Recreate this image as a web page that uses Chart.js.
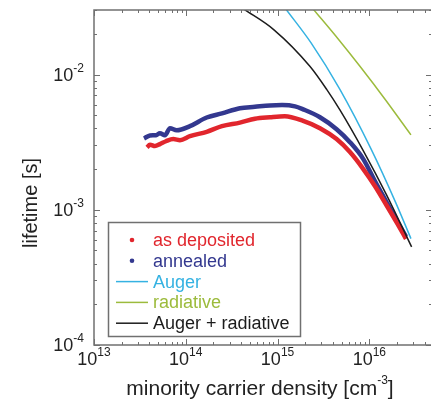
<!DOCTYPE html>
<html>
<head>
<meta charset="utf-8">
<script src="https://cdn.jsdelivr.net/npm/chart.js@4"></script>
<style>
  html, body { margin: 0; padding: 0; background: #fff; }
  #wrap { width: 431px; height: 410px; }
</style>
</head>
<body>
<div id="wrap"><canvas id="lifetimeChart" width="431" height="410"></canvas></div>
<script>
const depN = [3.78e13, 4.07e13, 4.62e13, 5.23e13, 6.08e13, 7.31e13, 8.65e13, 1.11e14, 1.69e14, 2.48e14, 3.89e14, 5.67e14, 8.26e14, 1.2e15, 1.9e15, 2.9e15, 4.4e15, 6.15e15, 8.6e15, 1.15e16, 1.54e16, 2.0e16, 2.51e16];
const depTau = [2.89e-3, 3.03e-3, 2.96e-3, 3.06e-3, 3.21e-3, 3.33e-3, 3.27e-3, 3.5e-3, 3.77e-3, 4.15e-3, 4.41e-3, 4.71e-3, 4.83e-3, 4.91e-3, 4.54e-3, 4.01e-3, 3.33e-3, 2.67e-3, 2.0e-3, 1.5e-3, 1.08e-3, 8.0e-4, 6.1e-4];

const annN = [3.51e13, 4.07e13, 4.73e13, 5.23e13, 5.93e13, 6.73e13, 7.96e13, 1.11e14, 1.69e14, 2.48e14, 3.89e14, 5.67e14, 8.26e14, 1.12e15, 1.55e15, 1.9e15, 2.9e15, 4.4e15, 6.15e15, 8.6e15, 1.15e16, 1.54e16, 2.0e16, 2.51e16];
const annTau = [3.37e-3, 3.54e-3, 3.56e-3, 3.68e-3, 3.56e-3, 4.01e-3, 3.87e-3, 4.15e-3, 4.81e-3, 5.16e-3, 5.63e-3, 5.77e-3, 5.91e-3, 5.95e-3, 5.82e-3, 5.53e-3, 4.83e-3, 3.94e-3, 3.16e-3, 2.37e-3, 1.63e-3, 1.14e-3, 8.3e-4, 6.32e-4];

// model curves
const augerN = [1.235e15, 2.31e15, 4.78e15, 1.04e16, 1.95e16, 2.84e16];
const augerTau = [3.04e-2, 1.72e-2, 7.76e-3, 2.83e-3, 1.12e-3, 6.12e-4];

const radN = [2.45e15, 4.58e15, 7.9e15, 1.49e16, 2.84e16];
const radTau = [3.04e-2, 1.83e-2, 1.15e-2, 6.54e-3, 3.58e-3];

const sumN = [4.31e14, 9.14e14, 2.25e15, 3.43e15, 4.78e15, 8.58e15, 1.54e16, 2.89e16];
const sumTau = [3.04e-2, 2.14e-2, 1.15e-2, 7.76e-3, 5.47e-3, 2.74e-3, 1.29e-3, 5.31e-4];

// axes
const xMajor = [1e13, 1e14, 1e15, 1e16];
const xExp = ["13", "14", "15", "16"];
const yMajor = [1e-4, 1e-3, 1e-2];
const yExp = ["-4", "-3", "-2"];

const FONT = '"Liberation Sans", Arial, sans-serif';
const axisColor = "#707070";
const textColor = "#222";

function pts(xs, ys) {
  return xs.map((v, i) => ({ x: v, y: ys[i] }));
}

function series(label, xs, ys, color, width, order, marker) {
  return {
    label,
    data: pts(xs, ys),
    borderColor: color,
    backgroundColor: color,
    borderWidth: width,
    pointRadius: 0,
    pointStyle: marker,
    cubicInterpolationMode: "monotone",
    order,
  };
}

function drawPow(ctx, exp, x, baseline, align) {
  ctx.font = "18px " + FONT;
  const wb = ctx.measureText("10").width;
  ctx.font = "12px " + FONT;
  const we = ctx.measureText(exp).width;
  let start = align === "right" ? x - wb - we : x - (wb + we) / 2;
  ctx.textAlign = "left";
  ctx.textBaseline = "alphabetic";
  ctx.font = "18px " + FONT;
  ctx.fillText("10", start, baseline);
  ctx.font = "12px " + FONT;
  ctx.fillText(exp, start + wb, baseline - 9);
}

const framePlugin = {
  id: "frame",
  afterDraw(chart) {
    const { ctx, chartArea: a, scales } = chart;
    const x = scales.x, y = scales.y;
    ctx.save();
    ctx.strokeStyle = axisColor;
    ctx.lineWidth = 1.5;
    // left, bottom and top; the right edge is cut off by the picture
    ctx.beginPath();
    ctx.moveTo(a.right, a.top); ctx.lineTo(a.left, a.top);
    ctx.lineTo(a.left, a.bottom); ctx.lineTo(a.right, a.bottom);
    ctx.stroke();

    // inward ticks on all four sides
    ctx.lineWidth = 1;
    ctx.beginPath();
    for (let e = 13; e <= 16; e++) {
      for (let m = 1; m <= 9; m++) {
        const v = m * Math.pow(10, e);
        if (v > x.max) continue;
        const px = Math.round(x.getPixelForValue(v)) + 0.5;
        const len = m === 1 ? 6 : 3;
        ctx.moveTo(px, a.bottom); ctx.lineTo(px, a.bottom - len);
        ctx.moveTo(px, a.top); ctx.lineTo(px, a.top + len);
      }
    }
    for (let e = -4; e <= -2; e++) {
      for (let m = 1; m <= 9; m++) {
        const v = m * Math.pow(10, e);
        if (v > y.max) continue;
        const py = Math.round(y.getPixelForValue(v)) + 0.5;
        const len = m === 1 ? 6 : 3;
        ctx.moveTo(a.left, py); ctx.lineTo(a.left + len, py);
        ctx.moveTo(a.right + 1, py); ctx.lineTo(a.right + 1 - len, py);
      }
    }
    ctx.stroke();

    // tick labels
    ctx.fillStyle = textColor;
    xMajor.forEach((v, i) => drawPow(ctx, xExp[i], x.getPixelForValue(v), 365, "center"));
    yMajor.forEach((v, i) => drawPow(ctx, yExp[i], 84, y.getPixelForValue(v) + 6, "right"));

    // axis titles
    ctx.font = "21px " + FONT;
    ctx.textBaseline = "middle";
    ctx.textAlign = "left";
    const t1 = "minority carrier density [cm";
    const w1 = ctx.measureText(t1).width;
    ctx.font = "12px " + FONT;
    const w2 = ctx.measureText("-3").width;
    ctx.font = "21px " + FONT;
    const w3 = ctx.measureText("]").width;
    let sx = 260 - (w1 + w2 + w3) / 2;
    ctx.fillText(t1, sx, 389);
    ctx.font = "12px " + FONT;
    ctx.fillText("-3", sx + w1, 381);
    ctx.font = "21px " + FONT;
    ctx.fillText("]", sx + w1 + w2, 389);

    ctx.save();
    ctx.translate(31, 203);
    ctx.rotate(-Math.PI / 2);
    ctx.textAlign = "center";
    ctx.font = "20px " + FONT;
    ctx.fillText("lifetime [s]", 0, 0);
    ctx.restore();

    // legend box inside the plot
    const lx = 108.5, ly = 222.5, lw = 192, lh = 114;
    ctx.fillStyle = "#fff";
    ctx.fillRect(lx, ly, lw, lh);
    ctx.strokeStyle = axisColor;
    ctx.lineWidth = 1.5;
    ctx.strokeRect(lx, ly, lw, lh);
    ctx.font = "18px " + FONT;
    ctx.textAlign = "left";
    ctx.textBaseline = "middle";
    chart.data.datasets.forEach((ds, i) => {
      const cy = 240 + i * 20.8;
      if (ds.pointStyle === "circle") {
        ctx.fillStyle = ds.borderColor;
        ctx.beginPath();
        ctx.arc(132, cy, 2.3, 0, Math.PI * 2);
        ctx.fill();
      } else {
        ctx.strokeStyle = ds.borderColor;
        ctx.lineWidth = 1.5;
        ctx.beginPath();
        ctx.moveTo(116, cy); ctx.lineTo(148, cy);
        ctx.stroke();
      }
      ctx.fillStyle = ds.borderColor;
      ctx.fillText(ds.label, 153, cy + 1);
    });
    ctx.restore();
  },
};

new Chart(document.getElementById("lifetimeChart"), {
  type: "line",
  data: {
    datasets: [
      series("as deposited", depN, depTau, "#e1262d", 4.5, 3, "circle"),
      series("annealed", annN, annTau, "#33388f", 4.5, 4, "circle"),
      series("Auger", augerN, augerTau, "#35b2e2", 1.5, 1, "line"),
      series("radiative", radN, radTau, "#9cbb3c", 1.5, 2, "line"),
      series("Auger + radiative", sumN, sumTau, "#1c1c1c", 1.5, 0, "line"),
    ],
  },
  options: {
    responsive: false,
    animation: false,
    devicePixelRatio: 1,
    layout: { padding: { left: 94, top: 10, right: 0, bottom: 65 } },
    scales: {
      x: { type: "logarithmic", min: 1e13, max: 4.7e16, display: false },
      y: { type: "logarithmic", min: 1e-4, max: 3e-2, display: false },
    },
    plugins: {
      legend: { display: false },
      tooltip: { enabled: false },
    },
  },
  plugins: [framePlugin],
});
</script>
</body>
</html>
